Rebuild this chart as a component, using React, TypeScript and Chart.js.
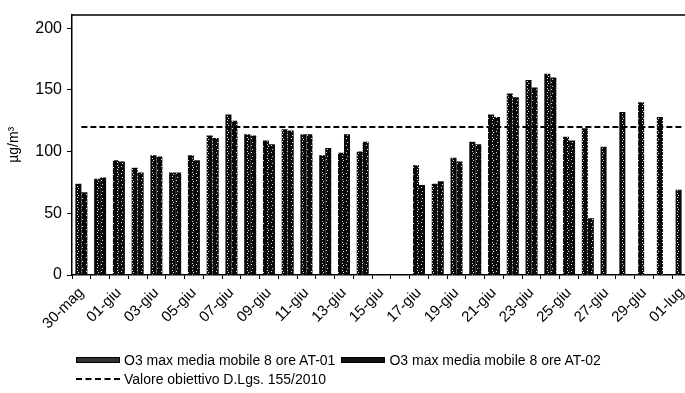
import React, { useEffect, useRef } from "react";
import { Chart, registerables } from "chart.js";

Chart.register(...registerables);

const categories = [
  "30-mag", "31-mag", "01-giu", "02-giu", "03-giu", "04-giu", "05-giu", "06-giu", "07-giu",
  "08-giu", "09-giu", "10-giu", "11-giu", "12-giu", "13-giu", "14-giu", "15-giu", "16-giu",
  "17-giu", "18-giu", "19-giu", "20-giu", "21-giu", "22-giu", "23-giu", "24-giu", "25-giu",
  "26-giu", "27-giu", "28-giu", "29-giu", "30-giu", "01-lug",
];

const at01 = [
  74, 78, 93, 87, 97, 83, 97, 113, 130, 114, 109, 118, 114, 97, 99, 100, null, null,
  89, 74, 95, 108, 130, 147, 158, 163, 112, 119, 104, 132, 140, 128, 69,
];

const at02 = [
  67, 79, 92, 83, 96, 83, 93, 111, 125, 113, 106, 117, 114, 103, 114, 108, null, null,
  73, 76, 92, 106, 128, 144, 152, 160, 109, 46, null, null, null, null, null,
];

const targetValue = 120;
const yTicks = [0, 50, 100, 150, 200];
const yMax = 211;

const seriesLabels = [
  "O3 max media mobile 8 ore AT-01",
  "O3 max media mobile 8 ore AT-02",
  "Valore obiettivo D.Lgs. 155/2010",
];
const yTitle = "µg/m³";

const FONT = "'Liberation Sans', Arial, sans-serif";
const CW = 700;
const CH = 393;

function makePattern(dots: number[][]): CanvasPattern | string {
  const c = document.createElement("canvas");
  c.width = 5;
  c.height = 7;
  const g = c.getContext("2d");
  if (!g) return "#111";
  g.fillStyle = "#080808";
  g.fillRect(0, 0, 5, 7);
  g.fillStyle = "#e0e0e0";
  dots.forEach(([x, y]) => g.fillRect(x, y, 1, 1));
  const p = g.createPattern(c, "repeat");
  return p || "#111";
}

export default function App() {
  const ref = useRef<HTMLCanvasElement | null>(null);

  useEffect(() => {
    const canvas = ref.current;
    if (!canvas) return;
    const p1 = makePattern([[2, 1], [2, 4], [3, 6]]);
    const p2 = makePattern([[2, 2], [1, 5]]);

    const topBorder = {
      id: "topBorder",
      afterDraw(chart: any) {
        const { ctx, chartArea } = chart;
        ctx.save();
        ctx.strokeStyle = "#000";
        ctx.lineWidth = 1.5;
        ctx.beginPath();
        ctx.moveTo(chartArea.left, chartArea.top + 0.5);
        ctx.lineTo(chartArea.right, chartArea.top + 0.5);
        ctx.stroke();
        ctx.restore();
      },
    };

    const chart = new Chart(canvas, {
      type: "bar",
      data: {
        labels: categories,
        datasets: [
          {
            type: "line",
            label: seriesLabels[2],
            data: categories.map(() => targetValue),
            borderColor: "#000",
            borderWidth: 2,
            borderDash: [6, 3],
            pointRadius: 0,
            fill: false,
            order: 0,
          } as any,
          {
            label: seriesLabels[0],
            data: at01,
            backgroundColor: p1,
            borderWidth: 0,
            categoryPercentage: 0.64,
            barPercentage: 1,
            order: 1,
          },
          {
            label: seriesLabels[1],
            data: at02,
            backgroundColor: p2,
            borderWidth: 0,
            categoryPercentage: 0.64,
            barPercentage: 1,
            order: 2,
          },
        ],
      },
      options: {
        responsive: false,
        animation: false,
        devicePixelRatio: 1,
        layout: { padding: { top: 10, right: 9, bottom: 0, left: 0 } },
        plugins: { legend: { display: false }, tooltip: { enabled: false } },
        scales: {
          x: {
            grid: {
              offset: true,
              drawOnChartArea: false,
              drawTicks: true,
              tickLength: 4,
              color: "#000",
            },
            border: { display: true, color: "#000", width: 1.5 },
            ticks: {
              autoSkip: false,
              maxRotation: 45,
              minRotation: 45,
              color: "#000",
              padding: 5,
              font: { family: FONT, size: 15 },
              callback: (_v: any, i: number) => (i % 2 === 0 ? categories[i] : ""),
            },
            afterFit: (axis: any) => {
              axis.height = CH - 275;
            },
          },
          y: {
            min: 0,
            max: yMax,
            afterBuildTicks: (axis: any) => {
              axis.ticks = yTicks.map((v) => ({ value: v }));
            },
            afterFit: (axis: any) => {
              axis.width = 72;
            },
            grid: {
              drawOnChartArea: false,
              drawTicks: true,
              tickLength: 5,
              color: "#000",
            },
            border: { display: true, color: "#000", width: 1.5 },
            ticks: {
              color: "#000",
              padding: 5,
              font: { family: FONT, size: 16 },
            },
            title: {
              display: true,
              text: yTitle,
              color: "#000",
              font: { family: FONT, size: 14 },
              padding: { top: 6, bottom: 0 },
            },
          },
        },
      },
      plugins: [topBorder],
    });
    return () => chart.destroy();
  }, []);

  const swatchBar = (dark: boolean) => ({
    display: "inline-block",
    width: 44,
    height: 6,
    background: dark ? "#111" : "#333",
    border: "1px solid #000",
    boxSizing: "border-box" as const,
    marginRight: 4,
    verticalAlign: "middle",
  });

  const textStyle = {
    fontFamily: FONT,
    fontSize: 14,
    color: "#000",
    verticalAlign: "middle",
    whiteSpace: "nowrap" as const,
  };

  return (
    <div
      style={{
        position: "fixed",
        left: 0,
        top: 0,
        width: 685,
        height: 393,
        overflow: "hidden",
        background: "#fff",
      }}
    >
      <canvas ref={ref} width={CW} height={CH} style={{ display: "block", width: CW, height: CH }} />
      <div style={{ position: "absolute", left: 76, top: 350, lineHeight: "18px" }}>
        <span style={swatchBar(false)} />
        <span style={textStyle}>{seriesLabels[0]}</span>
        <span style={{ ...swatchBar(true), marginLeft: 6 }} />
        <span style={textStyle}>{seriesLabels[1]}</span>
      </div>
      <div style={{ position: "absolute", left: 76, top: 369, lineHeight: "18px" }}>
        <span
          style={{
            display: "inline-block",
            width: 44,
            height: 0,
            borderTop: "2px dashed #000",
            marginRight: 4,
            verticalAlign: "middle",
          }}
        />
        <span style={textStyle}>{seriesLabels[2]}</span>
      </div>
    </div>
  );
}
